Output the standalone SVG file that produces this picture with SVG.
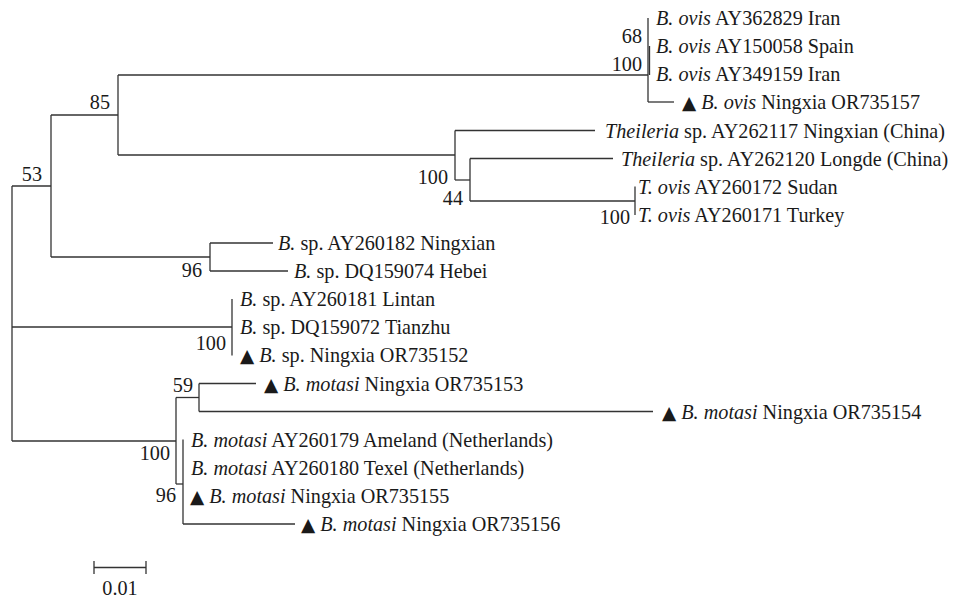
<svg xmlns="http://www.w3.org/2000/svg" width="962" height="601" viewBox="0 0 962 601">
<style>
text{font-family:"Liberation Serif","Times New Roman",serif;font-size:20.2px;fill:#1a1a1a}
.i{font-style:italic}
.tri{font-family:"DejaVu Sans",sans-serif;font-size:18.5px}
.bs{text-anchor:end}
#branches line{stroke:#333;stroke-width:1.3;fill:none}
</style>
<rect width="962" height="601" fill="#fff"/>
<g id="branches">
<line x1="12" y1="186" x2="12" y2="441"/>
<line x1="12" y1="186" x2="51" y2="186"/>
<line x1="12" y1="327" x2="232" y2="327"/>
<line x1="12" y1="441" x2="176" y2="441"/>
<line x1="51" y1="115" x2="51" y2="257"/>
<line x1="51" y1="115" x2="118" y2="115"/>
<line x1="51" y1="257" x2="210" y2="257"/>
<line x1="118" y1="75" x2="118" y2="155"/>
<line x1="118" y1="75" x2="648" y2="75"/>
<line x1="118" y1="155" x2="455" y2="155"/>
<line x1="648" y1="18" x2="648" y2="102"/>
<line x1="649.5" y1="46" x2="649.5" y2="75"/>
<line x1="648" y1="102" x2="674" y2="102"/>
<line x1="455" y1="130.5" x2="455" y2="180"/>
<line x1="455" y1="130.5" x2="595" y2="130.5"/>
<line x1="455" y1="180" x2="470" y2="180"/>
<line x1="470" y1="158.5" x2="470" y2="201"/>
<line x1="470" y1="158.5" x2="613" y2="158.5"/>
<line x1="470" y1="201" x2="635" y2="201"/>
<line x1="635" y1="186.5" x2="635" y2="215"/>
<line x1="210" y1="243" x2="210" y2="271"/>
<line x1="210" y1="243" x2="273" y2="243"/>
<line x1="210" y1="271" x2="288" y2="271"/>
<line x1="232" y1="299" x2="232" y2="355.5"/>
<line x1="176" y1="397.5" x2="176" y2="484"/>
<line x1="176" y1="397.5" x2="199" y2="397.5"/>
<line x1="176" y1="484" x2="183" y2="484"/>
<line x1="199" y1="383.5" x2="199" y2="411.5"/>
<line x1="199" y1="383.5" x2="256" y2="383.5"/>
<line x1="199" y1="411.5" x2="653" y2="411.5"/>
<line x1="183" y1="439.5" x2="183" y2="524"/>
<line x1="183" y1="524" x2="295" y2="524"/>
<line x1="94" y1="567.5" x2="146" y2="567.5"/>
<line x1="94" y1="561" x2="94" y2="574"/>
<line x1="146" y1="561" x2="146" y2="574"/>
</g>
<g id="leaf-AY362829"><text x="656" y="25"><tspan class="i">B. ovis</tspan> AY362829 Iran</text></g>
<g id="leaf-AY150058"><text x="656" y="53"><tspan class="i">B. ovis</tspan> AY150058 Spain</text></g>
<g id="leaf-AY349159"><text x="656" y="81"><tspan class="i">B. ovis</tspan> AY349159 Iran</text></g>
<g id="leaf-OR735157"><text x="682" y="109"><tspan class="tri">▲</tspan> <tspan class="i">B. ovis</tspan> Ningxia OR735157</text></g>
<g id="leaf-AY262117"><text x="605" y="137.5"><tspan class="i">Theileria</tspan> sp. AY262117 Ningxian (China)</text></g>
<g id="leaf-AY262120"><text x="621" y="165.5"><tspan class="i">Theileria</tspan> sp. AY262120 Longde (China)</text></g>
<g id="leaf-AY260172"><text x="638" y="193.5"><tspan class="i">T. ovis</tspan> AY260172 Sudan</text></g>
<g id="leaf-AY260171"><text x="638" y="221.5"><tspan class="i">T. ovis</tspan> AY260171 Turkey</text></g>
<g id="leaf-AY260182"><text x="278" y="250"><tspan class="i">B.</tspan> sp. AY260182 Ningxian</text></g>
<g id="leaf-DQ159074"><text x="294" y="278"><tspan class="i">B.</tspan> sp. DQ159074 Hebei</text></g>
<g id="leaf-AY260181"><text x="240" y="306"><tspan class="i">B.</tspan> sp. AY260181 Lintan</text></g>
<g id="leaf-DQ159072"><text x="240" y="334"><tspan class="i">B.</tspan> sp. DQ159072 Tianzhu</text></g>
<g id="leaf-OR735152"><text x="240" y="362"><tspan class="tri">▲</tspan> <tspan class="i">B.</tspan> sp. Ningxia OR735152</text></g>
<g id="leaf-OR735153"><text x="264" y="390.5"><tspan class="tri">▲</tspan> <tspan class="i">B. motasi</tspan> Ningxia OR735153</text></g>
<g id="leaf-OR735154"><text x="662" y="418.5"><tspan class="tri">▲</tspan> <tspan class="i">B. motasi</tspan> Ningxia OR735154</text></g>
<g id="leaf-AY260179"><text x="191" y="446.5"><tspan class="i">B. motasi</tspan> AY260179 Ameland (Netherlands)</text></g>
<g id="leaf-AY260180"><text x="191" y="474.5"><tspan class="i">B. motasi</tspan> AY260180 Texel (Netherlands)</text></g>
<g id="leaf-OR735155"><text x="190" y="502.5"><tspan class="tri">▲</tspan> <tspan class="i">B. motasi</tspan> Ningxia OR735155</text></g>
<g id="leaf-OR735156"><text x="301" y="531"><tspan class="tri">▲</tspan> <tspan class="i">B. motasi</tspan> Ningxia OR735156</text></g>
<g id="node-68"><text class="bs" x="642" y="43">68</text></g>
<g id="node-100-ovis"><text class="bs" x="642" y="71">100</text></g>
<g id="node-85"><text class="bs" x="110" y="109">85</text></g>
<g id="node-53"><text class="bs" x="42" y="181">53</text></g>
<g id="node-100-theileria"><text class="bs" x="448" y="184">100</text></g>
<g id="node-44"><text class="bs" x="463" y="205">44</text></g>
<g id="node-100-tovis"><text class="bs" x="630" y="224">100</text></g>
<g id="node-96-bsp"><text class="bs" x="202" y="277">96</text></g>
<g id="node-100-bsp"><text class="bs" x="226" y="350">100</text></g>
<g id="node-59"><text class="bs" x="193" y="392">59</text></g>
<g id="node-100-motasi"><text class="bs" x="170" y="460">100</text></g>
<g id="node-96-motasi"><text class="bs" x="176" y="502">96</text></g>
<g id="scale"><text x="120" y="595" text-anchor="middle">0.01</text></g>
</svg>
